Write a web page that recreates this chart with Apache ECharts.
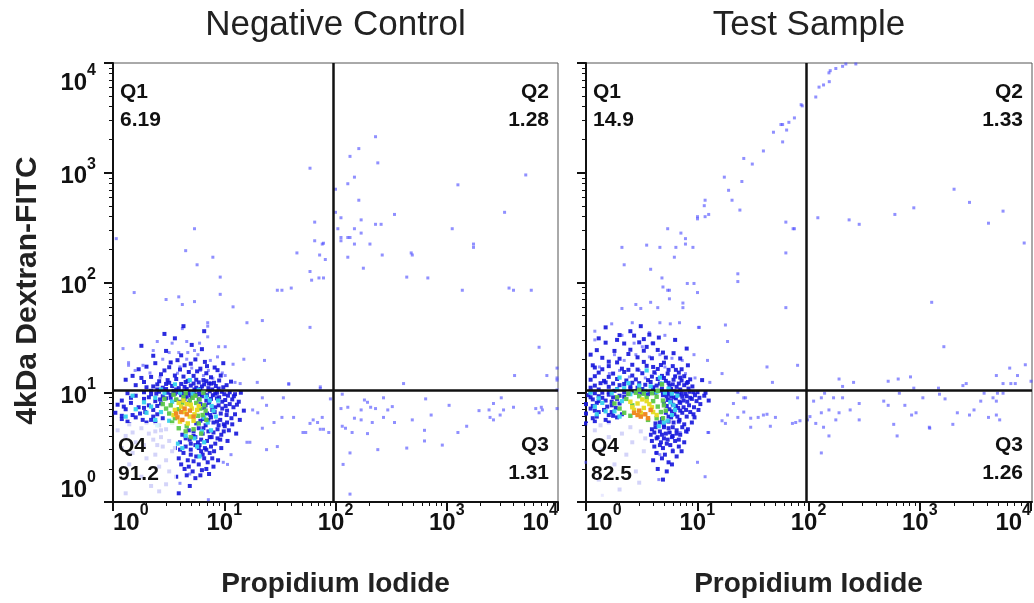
<!DOCTYPE html>
<html><head><meta charset="utf-8">
<script src="https://cdn.jsdelivr.net/npm/echarts@6/dist/echarts.min.js"></script>
<style>html,body{margin:0;padding:0;background:#fff}#c{width:1034px;height:603px}</style>
</head><body><div id="c"></div>
<script>
// ---------- text ----------
const panelTitles = ['Negative Control', 'Test Sample'];
const xAxisName = 'Propidium Iodide';
const yAxisName = '4kDa Dextran-FITC';
const decadeTicks = [1, 10, 100, 1000, 10000];
const decadeExps = ['0', '1', '2', '3', '4'];
const quadNames = ['Q1', 'Q2', 'Q3', 'Q4'];
const ncQuadPct = ['6.19', '1.28', '1.31', '91.2'];
const tsQuadPct = ['14.9', '1.33', '1.26', '82.5'];
// gates [PI threshold, FITC threshold]
const ncGate = [96, 10.4];
const tsGate = [94, 10.4];

// ---------- Negative Control events [PI, FITC] ----------
const ncSparse = [[59,1100],[65,355],[65,240],[76,224],[78,228],[1.07,251],[5.4,309],[4.5,195],[7.9,170],[5.7,145],[45,186],[72,178],[81,162],[59,126],[61,105],[71,110],[78,110],[40,89],[30,85],[33,85],[9.2,112],[9.2,78],[1.55,81],[3.0,70],[3.9,74],[4.2,63],[5.4,67],[12,60],[7.1,43],[7.1,40],[16,43],[22,45],[59,39],[4.2,38],
[229,2130],[162,1660],[135,1410],[240,1230],[148,912],[129,794],[100,708],[162,562],[100,436],[112,389],[170,372],[339,417],[229,339],[257,339],[105,309],[148,309],[170,282],[112,257],[129,257],[135,257],[112,240],[148,224],[204,224],[129,170],[263,178],[479,186],[490,178],[178,135],[437,112],[676,110],[1260,776],[1120,309],[1740,224],[1740,209],[3310,436],[5130,955],[1380,85],[3630,89],[3980,85],[5750,85],
[6760,25.7],[4070,14.2],[7940,14.2],[9800,16.6],[9800,13.5],[409,12],[73,11.2],
[115,9.6],[182,8.5],[194,8.1],[207,7.3],[270,8.9],[112,7.1],[129,7.3],[148,5.8],[170,6.9],[170,5.6],[214,5.3],[229,7.1],[295,6.9],[324,7.4],[270,5.9],[339,5.3],[115,4.9],[123,4.7],[141,4.3],[194,4.2],[490,5.6],[646,8.7],[724,6.2],[1050,7.6],[631,4.5],[631,3.6],[437,3.1],[240,3.0],[912,3.3],[1260,4.3],[1510,4.9],[1950,6.8],[2400,6.9],[2630,7.9],[3090,8.9],[2450,5.9],[2630,5.6],[3020,6.2],[3240,6.9],[3980,7.3],[6310,7.1],[7080,7.3],[7240,6.9],[6760,6.5],[9800,12.9],[9800,10.5],[9800,7.1],[135,2.8],[117,2.2],[135,1.18],
[54,4.3],[73,4.6],[78,4.6],[63,5.6],[59,5.2],[69,5.3],[76,5.9],[90,8.7],[22,8.9],[34,8.9],[38,12],[18,6.9],[20,6.5],[24,7.6],[33,5.9],[42,5.9],[28,5.3],[22,4.7],[16,3.5],[17,3.5],[24,3.0],[30,3.2],[51,4.3],[87,4.3],[11.5,2.7],[9.8,2.3],[10.7,2.2],[7.2,1.05],[4.0,1.48],[4.9,1.8],
[2.5,29],[3.4,28],[4.6,29],[7.1,32],[6.0,28],[1.23,25],[2.3,24],[3.2,23],[3.9,23],[4.7,23],[5.4,24],[8.9,26],[10.2,26],[15,20],[23,19.5],[12,18],[1.38,18.6],[1.38,17.6],[1.86,17.6],[1.58,15.8],[2.15,15],[4.0,17],[5.1,16.6],[6.1,15.8],[7.2,15.8],[4.6,20],[5.8,22],[7.5,19.5],[8.7,21],[2.8,20],[3.3,18.7],[9.6,15],[10.2,14.2],[12.5,12.3],[13.9,12],[19.8,12.3],[38,11.8],[2.65,13.7],[3.8,14.9],[4.9,12.8],[6.5,14.2],[7.9,13.4],[73,10.8]];
const ncBlue = [[2.6,10.1],[3.1,9.9],[3.5,10.3],[3.9,10.0],[4.3,10.2],[4.8,9.8],[5.3,10.1],[5.9,10.3],[6.6,9.9],[7.4,10.2],[8.3,9.7],[9.5,10.1],[2.2,10.3],[11.2,10.0],
[1.6,9.3],[2.2,9.6],[2.8,9.2],[3.3,9.5],[4.1,9.4],[4.6,9.1],[5.6,9.5],[6.3,9.2],[7.9,9.4],[9.0,9.0],[10.8,9.3],[12.5,9.6],
[1.2,8.4],[1.9,8.7],[2.4,8.3],[3.0,8.8],[3.7,8.5],[4.4,8.7],[5.1,8.9],[6.9,8.4],[8.6,8.8],[10.2,8.5],[13.5,8.2],
[1.1,7.7],[1.45,8.0],[2.1,7.6],[2.7,7.9],[6.1,7.8],[7.3,8.0],[8.9,7.6],[11.2,7.8],
[1.3,7.0],[1.7,7.3],[2.3,6.9],[6.6,7.2],[7.8,6.9],[9.6,7.1],[12.1,7.3],[15,6.8],
[1.05,6.5],[1.5,6.2],[1.95,6.6],[2.5,6.3],[7.0,6.4],[8.2,6.6],[10.5,6.2],
[1.2,5.7],[1.6,5.9],[2.2,5.6],[2.8,5.8],[6.5,5.7],[7.6,5.9],[9.2,5.6],[11.6,5.8],
[1.4,5.1],[2.0,5.3],[2.6,5.0],[5.6,5.2],[6.8,5.0],[8.0,5.3],[9.9,5.1],
[1.1,4.5],[1.8,4.7],[2.4,4.4],[3.0,4.6],[4.8,4.5],[5.9,4.7],[7.2,4.4],[8.7,4.6],[11,4.5],
[1.3,4.0],[2.1,4.2],[2.7,3.9],[4.2,4.1],[5.3,4.0],[6.4,4.2],[7.7,3.9],[9.4,4.1],
[1.6,3.5],[2.3,3.7],[3.2,3.6],[4.0,3.5],[4.9,3.7],[5.8,3.5],[7.0,3.6],[8.3,3.4],
[1.2,3.1],[1.9,3.3],[2.8,3.2],[3.6,3.1],[4.5,3.2],[5.5,3.3],[6.7,3.1],[7.6,3.2],
[1.5,2.8],[2.4,2.7],[3.4,2.9],[4.3,2.8],[5.0,2.7],[6.2,2.9],[7.4,2.8],
[2.0,2.5],[3.0,2.4],[3.9,2.5],[4.7,2.4],[5.6,2.6],[6.6,2.5],
[1.4,2.2],[2.6,2.1],[4.1,2.2],[4.8,2.1],[5.9,2.2],[7.1,2.3],
[3.2,1.9],[4.4,2.0],[5.2,1.9],[6.3,1.95],[1.8,1.7],[3.7,1.7],[4.6,1.75],[5.5,1.65],
[2.2,1.4],[3.0,1.45],[4.9,1.4],[1.3,1.2],[2.6,1.25],[3.9,1.2],
[2.3,11.3],[2.8,11.0],[3.4,11.4],[3.9,10.9],[4.4,11.2],[5.0,11.5],[5.6,11.0],[6.3,11.3],[7.2,10.9],[8.4,11.4],[9.8,11.1],
[1.9,12.4],[2.6,12.6],[3.2,12.2],[4.7,12.7],[5.9,12.3],[6.9,12.6],[8.1,12.2],[11.5,12.5],
[1.5,14.1],[2.2,13.8],[3.6,14.2],[4.3,13.9],[5.3,14.1],[7.6,13.7],[9.3,14.2],
[1.7,16.2],[2.9,15.8],[4.0,16.1],[6.1,16.4],[8.7,15.9],[2.4,18.4],[3.3,18.7],[5.0,18.2],[6.7,18.9],
[1.35,9.8],[1.9,10.0],[2.45,9.7],[3.6,9.7],[4.4,9.6],[5.0,9.4],[6.0,9.6],[7.0,9.4],[8.6,9.9],[10,9.6],
[1.45,8.9],[2.1,9.0],[2.65,8.6],[3.3,8.9],[4.0,8.2],[4.8,8.0],[5.9,8.6],[7.6,8.7],[9.6,8.2],[11.8,8.6],
[1.25,7.4],[1.9,7.2],[2.5,7.5],[6.8,7.6],[8.3,7.3],[10.3,7.5],[13,7.7],
[1.2,6.1],[1.75,6.4],[2.3,6.0],[7.5,6.2],[9.3,6.4],[12.5,6.3],
[1.35,5.4],[1.85,5.6],[2.4,5.3],[6.1,5.5],[7.2,5.6],[8.6,5.4],[10.6,5.3],
[1.5,4.3],[2.7,4.5],[5.3,4.4],[6.5,4.7],[8.0,4.3],[9.9,4.4],
[2.5,3.3],[4.5,3.8],[5.5,3.9],[6.2,3.7],[7.4,3.9],[8.7,3.8],
[4.0,3.0],[5.0,3.0],[5.9,3.1],[6.9,3.0],
[3.0,10.7],[3.7,10.6],[4.6,10.7],[5.4,10.6],[6.1,10.7],[7.8,10.6],[2.5,10.6],[8.9,10.8],
[3.0,11.9],[4.1,11.9],[5.3,12.0],[6.6,11.8],[7.6,12.0],
[1.6,11.6],[2.0,11.1],[2.5,11.8],[3.1,12.9],[3.7,13.2],[4.5,12.4],[5.6,13.0],[6.5,12.9],[7.3,12.0],[9.0,12.8],[10.5,11.6],[1.8,13.5],[2.7,14.6],[3.2,16.9],[4.8,15.3],[5.7,15.5],[6.9,14.9],[8.2,16.8],[1.3,13.0],[2.0,17.1],[3.8,19.6],[4.4,17.6],[5.5,19.9],[7.0,17.3],[9.8,18.4],[2.3,21.5],[3.0,23.8],[4.1,21.7],[6.3,24.7],[1.8,26.5],[3.6,31],[5.1,27],[6.6,36],[4.3,40],[2.9,34],
[8.9,5.0],[10.1,4.9],[9.2,3.7],[10.7,3.6],[8.1,2.9],[9.4,3.1],[7.8,2.5],[8.8,2.4],[6.9,2.0],[8.0,2.1],[6.1,1.75],[7.3,1.8],[11.8,5.1],[12.8,4.2],[10.6,6.8],[13.8,5.6],[12.2,9.2],[14.1,9.9],[5.3,2.35],[6.4,2.7],[5.0,3.4],[6.0,3.3]];
const ncCyan = [[2.4,8.9],[2.9,9.8],[3.4,8.2],[2.2,7.4],[2.7,6.6],[3.2,5.5],[2.5,5.0],[6.9,9.1],[7.7,7.5],[8.4,6.0],[6.3,4.4],[7.1,5.3],[5.4,3.8],[4.5,4.0],[6.0,2.6],[1.6,7.0],[1.3,6.0],[5.2,9.7],[4.0,9.9],[8.8,8.4],[3.8,3.4],[5.7,3.2],[3.6,11.8],[4.9,12.9],
[1.9,8.1],[1.5,9.3],[2.0,6.5],[2.4,5.6],[7.4,8.4],[8.0,6.8],[7.6,4.5],[6.6,3.5],[5.9,10.5],[2.7,10.6],[4.2,3.1],[6.6,5.9]];
const ncGreen = [[3.3,7.6],[3.7,8.6],[4.3,9.0],[4.9,8.4],[5.6,8.0],[6.1,7.1],[6.4,6.2],[5.9,5.2],[5.3,4.6],[4.6,4.9],[3.9,7.0],[3.2,6.4],[6.8,6.8],[5.5,9.3],[4.2,8.0],[5.0,3.9],[6.2,4.2],[3.6,5.8],
[3.0,7.1],[3.5,9.5],[4.5,9.8],[5.2,8.9],[6.0,8.6],[6.6,7.6],[5.8,6.1],[6.9,5.6],[4.5,4.4],[3.9,4.7],[2.8,7.8],[3.4,5.3],[2.9,8.7],[6.5,9.9]];
const ncYellow = [[4.1,7.4],[4.6,7.8],[5.1,7.1],[5.4,6.3],[4.9,6.0],[4.4,6.6],[4.0,5.4],[5.7,6.9],[4.7,5.2],[4.3,8.4],[5.0,7.7],[3.6,6.9],[3.5,6.2],[5.9,7.5],[5.3,5.5],[3.9,8.0]];
const ncOrange = [[3.8,5.9],[4.2,5.6],[4.6,6.3],[4.1,6.6],[4.4,7.1],[3.7,6.4],[4.9,6.8],[5.3,6.0]];

// ---------- Test Sample events [PI, FITC] ----------
const tsSparse = [[85,4170],[74,3160],[66,2880],[56,2750],[58,2750],[63,2450],[48,2340],[58,1910],[39,1580],[26,1350],[31,1200],[17.4,912],[25,832],[19,692],[20.4,562],[11.7,562],[11.5,501],[24,457],[12.6,417],[11.7,398],[10,398],[10,380],[5.4,309],[7.1,282],[7.8,251],[7.8,224],[2.1,209],[3.5,219],[4.6,209],[6.4,209],[9.1,209],[6.2,170],[2.2,145],[3.8,132],[62,355],[72,309],[74,309],[62,186],[120,389],[4.8,110],[4.9,91],[5.4,85],[5.6,85],[23,120],[23,102],[8.1,98],[9.3,98],[10,81],[5.6,71],[3.8,66],[4.4,59],[2.8,63],[3.1,58],[2.1,58],[7.4,65],[7.4,59],[62,59],
[263,9800],[214,9800],[200,9330],[174,8910],[155,8510],[151,8130],[152,6760],[135,6310],[123,6030],[115,4900],[87,4070],[229,372],[282,339],[589,417],[871,479],[2000,708],[2750,537],[4070,347],[5500,447],[8510,229],[1260,66],
[1620,26],[8710,17.8],[6310,16.6],[7410,14.2],[4790,14.2],[9800,12.6],[5500,12],[6460,12],[7080,12],[186,13.2],[251,12.3],[200,11.3],[513,12.6],[631,13.2],[813,13.8],[871,10.9],[1450,10.9],[2400,11.5],[2570,12],
[110,8.3],[129,8.9],[138,9.8],[166,8.9],[200,8.9],[102,6.0],[115,5.2],[129,6.5],[151,6.9],[186,6.5],[135,4.8],[151,4.0],[129,2.8],[174,5.6],[234,6.9],[282,7.9],[282,5.6],[468,8.3],[513,7.6],[646,9.8],[575,5.1],[617,4.0],[724,7.6],[832,6.2],[912,6.5],[1050,8.9],[1480,9.6],[1660,8.7],[1200,4.8],[1210,4.7],[1950,5.1],[2140,6.5],[2750,6.2],[3020,6.9],[3470,8.3],[3720,9.8],[4070,5.9],[4790,6.2],[5130,5.6],[4790,8.3],[4470,8.9],[4900,9.8],[5500,9.8],[97,5.6],[83,5.5],
[42,17],[79,17.6],[47,12.3],[27,8.9],[26,8.9],[23,10],[16.6,14.8],[17.8,41],[18.6,29],[10.2,39],[79,8.9],[50,5.9],[42,6.3],[35,5.9],[30,5.8],[39,6.2],[71,5.2],[76,5.3],[26,6.6],[23,5.9],[18.6,6.2],[16.6,5.5],[17.8,5.2],[21,7.9],[30,4.8],[45,4.9],[10,2.3],[11.7,1.7],[12.6,4.3],[12.4,4.3],[4.5,1.6],[1.4,1.15],[6.0,3.0],[4.2,2.8],[4.6,2.7],[8.1,4.3],[7.0,4.3],[5.7,4.3],[1.0,2.3],
[1.7,42],[2.6,43],[4.6,43],[5.7,42],[6.9,43],[10.4,39],[1.2,36],[1.2,30],[2.1,33],[3.7,35],[5.1,33],[3.9,28],[3.2,26],[2.7,28],[1.8,22],[2.2,19.5],[2.8,22],[3.7,21],[4.6,22],[5.9,20.4],[7.3,19.5],[9.3,22],[12.3,19.5],[1.32,17],[1.62,14.8],[2.0,15.8],[2.45,13.8],[3.0,15.8],[3.4,13.5],[4.2,14.8],[5.1,17],[6.3,14.2],[7.8,14.8],[9.5,13.5],[12.9,12.3]];
const tsBlue = [[1.1,10.2],[1.4,9.9],[1.8,10.3],[2.2,10.0],[2.7,10.2],[3.2,9.8],[3.8,10.1],[4.5,10.3],[5.3,9.9],[6.2,10.2],[7.2,9.8],[8.5,10.1],[10,10.0],
[1.05,9.4],[1.3,9.2],[1.6,9.5],[2.0,9.3],[4.9,9.4],[5.8,9.1],[6.8,9.5],[8.0,9.2],[9.5,9.4],[11.5,9.3],
[1.15,8.6],[1.5,8.4],[1.9,8.7],[5.4,8.5],[6.4,8.8],[7.5,8.4],[8.9,8.7],
[1.0,7.8],[1.25,8.0],[1.7,7.6],[5.0,7.9],[6.0,7.7],[7.0,8.0],[8.4,7.6],[10.6,7.8],
[1.1,7.1],[1.45,6.9],[1.85,7.2],[5.6,7.0],[6.7,7.2],[7.9,6.9],
[1.0,6.4],[1.3,6.6],[1.6,6.2],[5.2,6.5],[6.2,6.3],[7.3,6.5],[9.2,6.3],
[1.15,5.8],[1.5,5.6],[1.9,5.9],[4.8,5.7],[5.8,5.9],[6.9,5.6],
[1.0,5.2],[1.35,5.0],[4.2,5.2],[5.0,5.0],[6.1,5.3],[7.6,5.1],
[3.9,4.6],[4.6,4.4],[5.5,4.7],[6.5,4.5],[8.2,4.6],
[3.8,4.1],[4.4,3.9],[5.2,4.2],[6.0,4.0],[7.0,4.1],
[3.9,3.6],[4.7,3.5],[5.4,3.7],[6.3,3.6],[4.1,3.2],[4.9,3.1],[5.7,3.3],[6.8,3.2],
[4.3,2.8],[5.1,2.7],[6.0,2.9],[4.0,2.4],[4.8,2.5],[5.5,2.3],[4.4,2.0],[5.3,1.9],
[1.2,4.5],[1.6,3.9],[2.1,4.2],[2.6,3.5],[3.1,4.4],[1.4,3.0],[2.3,2.7],[3.3,2.9],[1.8,2.2],[2.8,1.9],[1.3,1.6],[3.0,1.5],[2.0,1.3],[2.5,4.8],[3.4,3.8],
[1.2,11.5],[1.6,11.2],[2.0,11.6],[2.5,11.3],[3.4,11.7],[4.0,11.1],[5.6,11.5],[6.5,11.2],[7.6,11.6],[9.0,11.3],
[1.1,13.0],[1.45,12.7],[1.9,13.2],[2.3,12.8],[2.8,13.1],[3.6,12.9],[4.4,13.2],[5.2,12.7],[6.1,13.0],[7.2,12.8],[8.6,13.1],[11,12.9],
[1.3,15.1],[1.75,14.8],[2.2,15.3],[3.2,14.9],[4.1,15.2],[5.4,14.8],[6.8,15.1],
[1.15,17.6],[1.6,17.3],[2.6,17.8],[3.5,17.4],[4.7,17.7],[6.0,17.3],[8.2,17.6],
[1.4,20.6],[2.0,20.2],[2.9,20.8],[3.9,20.4],[5.2,20.7],[7.0,20.3],
[1.25,24.2],[1.8,23.8],[2.5,24.4],[3.3,23.9],[4.4,24.3],
[1.5,28.3],[2.2,27.8],[3.0,28.5],[4.0,27.9],[2.0,33.2],[2.7,32.8],[3.7,33.5],
[1.2,9.8],[1.6,10.0],[2.4,9.7],[3.0,10.1],[3.6,9.6],[4.2,9.9],[4.9,10.0],[5.6,9.7],[6.6,10.0],[7.8,9.7],[9.2,10.0],
[1.1,9.0],[1.4,8.9],[1.75,9.0],[2.2,9.1],[5.3,9.2],[6.2,9.0],[7.3,9.1],[8.6,8.9],[10.4,8.9],
[1.3,8.3],[1.7,8.2],[2.0,7.9],[5.8,8.3],[6.9,8.2],[8.1,8.2],[9.8,8.3],
[1.15,7.5],[1.55,7.4],[5.3,7.5],[6.4,7.5],[7.5,7.3],[9.3,7.3],
[1.2,6.8],[1.7,6.6],[5.9,6.7],[7.0,6.8],[8.6,6.6],
[1.25,6.0],[1.75,6.1],[2.1,6.3],[5.5,6.0],[6.6,6.0],[8.0,6.0],
[1.2,5.4],[1.6,5.3],[4.6,5.3],[5.5,5.4],[6.8,5.4],
[4.2,4.8],[5.0,4.8],[6.0,4.8],[7.3,4.8],[4.1,4.3],[4.8,4.1],[5.6,4.3],[6.5,4.2],
[4.3,3.8],[5.0,3.8],[5.9,3.9],[4.6,3.3],[5.3,3.4],
[1.3,10.6],[1.9,10.7],[2.5,10.8],[3.2,10.7],[4.0,10.6],[4.8,10.8],[5.8,10.7],[7.0,10.6],[8.3,10.8],
[1.35,12.1],[1.75,12.0],[2.6,12.2],[3.0,12.1],[4.6,12.0],[5.5,12.2],[6.8,12.0],[8.0,12.1],
[1.2,14.0],[1.6,13.8],[2.6,14.2],[3.9,13.9],[4.8,14.1],[6.3,13.9],[7.6,14.0],
[1.4,16.2],[2.1,16.4],[2.9,16.1],[4.4,16.3],[5.5,16.0],[7.2,16.2],
[1.1,11.0],[1.5,12.3],[2.2,11.9],[2.9,11.0],[3.8,12.4],[4.3,11.5],[5.0,13.5],[6.0,11.8],[7.0,13.6],[8.2,12.4],[1.2,16.8],[1.9,18.7],[2.4,16.0],[3.3,18.9],[4.0,17.0],[5.0,18.6],[6.4,16.0],[1.1,22.0],[1.6,19.0],[2.4,22.3],[3.5,25.9],[4.9,23.0],[6.1,22.7],[1.3,31],[1.9,30],[2.5,36],[3.3,30.5],[4.5,31.5],[6.3,30],[8.0,25],[1.5,39],[3.1,40],
[7.9,4.4],[8.9,5.3],[6.8,3.7],[7.6,3.5],[6.5,2.6],[5.9,2.2],[7.2,2.9],[4.9,1.6],[9.4,5.9],[10.2,6.9],[11.8,9.9],[12.6,8.4]];
const tsCyan = [[1.3,8.8],[1.7,9.8],[2.1,8.3],[2.5,9.6],[1.5,6.7],[1.2,7.4],[2.0,6.0],[5.1,9.9],[5.7,8.1],[6.3,6.9],[5.4,5.5],[4.5,4.9],[3.4,10.3],[4.3,10.1],[6.6,9.3],[1.9,10.6],[4.8,12],[3.0,11.5],[2.4,12.1],[3.5,15.8],[4.6,13.6],
[1.1,9.9],[1.4,8.0],[1.8,6.7],[1.25,6.3],[5.9,9.7],[6.1,7.6],[5.9,6.2],[5.0,5.3],[2.2,10.9],[3.8,11.3],[5.5,10.8],[2.0,13.6]];
const tsGreen = [[2.3,8.7],[2.6,7.6],[3.0,9.2],[3.5,8.9],[4.0,8.3],[4.4,7.4],[4.7,6.6],[4.3,5.8],[2.2,6.5],[3.9,9.8],[2.8,9.9],[5.0,7.6],[1.8,7.9],[3.6,5.6],[4.8,11.8],
[1.9,9.0],[2.4,9.7],[3.3,9.7],[4.3,9.1],[4.9,8.4],[5.2,6.8],[4.9,5.8],[2.0,7.1],[2.5,6.1],[4.4,10.3],[3.0,10.5]];
const tsYellow = [[2.9,7.9],[3.3,7.2],[3.7,7.8],[3.1,6.5],[2.7,6.9],[4.0,6.6],[3.5,8.3],[2.5,8.2],[3.9,7.3],[4.3,6.2],[3.2,8.6],[2.6,7.3]];
const tsOrange = [[3.1,6.0],[3.4,6.3],[2.9,6.2],[3.6,5.8],[3.0,6.8],[3.8,6.9],[2.7,6.5]];

// ---------- styling ----------
const FONT = '"Liberation Sans", Arial, Helvetica, sans-serif';
const minorTicks = [];
for (let d = 1; d < 10000; d *= 10) for (let k = 2; k <= 9; k++) minorTicks.push(k * d);

const panels = [
  {left: 113, width: 445, gate: ncGate, pct: ncQuadPct, title: panelTitles[0], yLabels: true,
   sets: [ncSparse, ncBlue, ncCyan, ncGreen, ncYellow, ncOrange]},
  {left: 586, width: 446, gate: tsGate, pct: tsQuadPct, title: panelTitles[1], yLabels: false,
   sets: [tsSparse, tsBlue, tsCyan, tsGreen, tsYellow, tsOrange]}
];
const TOP = 63, HEIGHT = 439;
const setStyles = [
  {color: '#4646ff', opacity: 0.6, size: 3},
  {color: '#1414dc', opacity: 0.9, size: 4},
  {color: '#38d2ec', opacity: 0.95, size: 4.2},
  {color: '#5cc84a', opacity: 0.95, size: 4.4},
  {color: '#e6dc28', opacity: 1, size: 4.4},
  {color: '#f08a24', opacity: 1, size: 4.4}
];
const richLabel = {
  b: {fontSize: 24, fontWeight: 'bold', fontFamily: FONT, color: '#111', lineHeight: 32, verticalAlign: 'bottom'},
  s: {fontSize: 16, fontWeight: 'bold', fontFamily: FONT, color: '#111', lineHeight: 16, verticalAlign: 'top'}
};
const fmt = v => '{b|10}{s|' + decadeExps[Math.round(Math.log10(v))] + '}';

const grid = [], xAxis = [], yAxis = [], series = [], graphic = [];
panels.forEach((p, i) => {
  const g0 = grid.length;
  grid.push({left: p.left, top: TOP, width: p.width, height: HEIGHT, show: true, borderColor: '#555', borderWidth: 1, backgroundColor: 'transparent'});
  grid.push({left: p.left, top: TOP, width: p.width, height: HEIGHT, show: false});
  const baseAxis = {type: 'log', logBase: 10, min: 1, max: 10000, splitLine: {show: false}, minorTick: {show: false}, minorSplitLine: {show: false}};
  xAxis.push(Object.assign({}, baseAxis, {gridIndex: g0, position: 'bottom',
    axisLine: {show: true, onZero: false, lineStyle: {color: '#111', width: 2}},
    axisTick: {show: true, customValues: minorTicks, length: 4, lineStyle: {color: '#111', width: 1}},
    axisLabel: {show: false}}));
  yAxis.push(Object.assign({}, baseAxis, {gridIndex: g0, position: 'left',
    axisLine: {show: true, onZero: false, lineStyle: {color: '#111', width: 2}},
    axisTick: {show: true, customValues: minorTicks, length: 4, lineStyle: {color: '#111', width: 1}},
    axisLabel: {show: false}}));
  xAxis.push(Object.assign({}, baseAxis, {gridIndex: g0 + 1, position: 'bottom',
    axisLine: {show: false},
    axisTick: {show: true, customValues: decadeTicks, length: 9, lineStyle: {color: '#111', width: 2}},
    axisLabel: {show: true, customValues: decadeTicks, formatter: fmt, rich: richLabel, margin: 1,
      alignMinLabel: 'left', alignMaxLabel: 'right'},
    name: xAxisName, nameLocation: 'middle', nameGap: 68,
    nameTextStyle: {fontSize: 28, fontWeight: 'bold', fontFamily: FONT, color: '#222'}}));
  yAxis.push(Object.assign({}, baseAxis, {gridIndex: g0 + 1, position: 'left',
    axisLine: {show: false},
    axisTick: {show: true, customValues: decadeTicks, length: 9, lineStyle: {color: '#111', width: 2}},
    axisLabel: {show: p.yLabels, customValues: decadeTicks, formatter: fmt, rich: richLabel, margin: 17,
      verticalAlignMinLabel: 'bottom', verticalAlignMaxLabel: 'top'},
    name: p.yLabels ? yAxisName : '', nameLocation: 'middle', nameGap: 70,
    nameTextStyle: {fontSize: 30, fontWeight: 'bold', fontFamily: FONT, color: '#222', padding: [0, 16, 0, 0]}}));
  const axIdx = xAxis.length - 2;
  p.sets.forEach((data, k) => {
    const st = setStyles[k];
    const s = {type: 'scatter', xAxisIndex: axIdx, yAxisIndex: axIdx, data: data, symbol: 'rect',
      symbolSize: st.size, itemStyle: {color: st.color, opacity: st.opacity}, silent: true, z: 2 + k};
    if (k === 0) {
      s.markLine = {silent: true, symbol: 'none', animation: false, label: {show: false},
        lineStyle: {color: '#111', width: 2.5, type: 'solid', opacity: 1},
        data: [{xAxis: p.gate[0]}, {yAxis: p.gate[1]}]};
    }
    series.push(s);
  });
  graphic.push({type: 'text', x: p.left + p.width / 2, y: 25, z: 100,
    style: {text: p.title, align: 'center', verticalAlign: 'middle', fontSize: 35, fontFamily: FONT, fill: '#222'}});
  graphic.push({type: 'rect', shape: {x: p.left + 1, y: 423, width: 62, height: 77}, z: 100,
    style: {fill: 'rgba(255,255,255,0.8)'}});
  const qs = {fontSize: 21, fontWeight: 'bold', fontFamily: FONT, fill: '#111', lineHeight: 28};
  const L = p.left + 7, R = p.left + p.width - 9;
  graphic.push({type: 'text', x: L, y: 78, z: 101, style: Object.assign({text: quadNames[0] + '\n' + p.pct[0], align: 'left', verticalAlign: 'top'}, qs)});
  graphic.push({type: 'text', x: R, y: 78, z: 101, style: Object.assign({text: quadNames[1] + '\n' + p.pct[1], align: 'right', verticalAlign: 'top'}, qs)});
  graphic.push({type: 'text', x: R, y: 431, z: 101, style: Object.assign({text: quadNames[2] + '\n' + p.pct[2], align: 'right', verticalAlign: 'top'}, qs)});
  graphic.push({type: 'text', x: p.left + 5, y: 432, z: 101, style: Object.assign({text: quadNames[3] + '\n' + p.pct[3], align: 'left', verticalAlign: 'top'}, qs)});
});

const chart = echarts.init(document.getElementById('c'), null, {renderer: 'canvas'});
chart.setOption({animation: false, backgroundColor: '#fff', grid, xAxis, yAxis, series, graphic});
</script>
</body></html>
